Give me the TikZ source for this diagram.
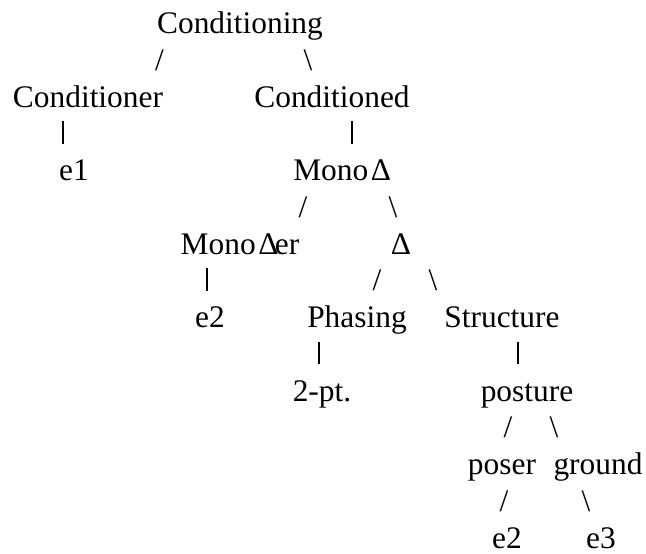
\documentclass[tikz,border=0pt]{standalone}
\usepackage{fontspec}
\setmainfont{Liberation Serif}
% short upright stroke used for the single-child links
\newcommand{\treebar}{\rule{2.4pt}{0.72em}}
\begin{document}
\begin{tikzpicture}[x=1pt,y=-1pt,
  lbl/.style={anchor=base,inner sep=0pt,font=\fontsize{31.4}{36}\selectfont},
  link/.style={lbl}]
\useasboundingbox (0,0) rectangle (646,554);
\def\rowh{36.75}
\newcommand{\rowy}[1]{33.6+#1*\rowh}
\newcommand{\Dl}{\kern0.1em ∆}
% row 0
\node[lbl] (cond) at (240,{\rowy{0}}) {Conditioning};
% row 1
\node[link] (s1) at (159.5,{\rowy{1}}) {/};
\node[link] (b1) at (308,{\rowy{1}}) {\textbackslash};
% row 2
\node[lbl] (condr) at (88,{\rowy{2}}) {Conditioner};
\node[lbl] (condd) at (332,{\rowy{2}}) {Conditioned};
% row 3
\node[link] (v1) at (63,{\rowy{3}}) {\treebar};
\node[link] (v2) at (352,{\rowy{3}}) {\treebar};
% row 4
\node[lbl] (e1) at (74,{\rowy{4}}) {e1};
\node[lbl] (mono) at (342,{\rowy{4}}) {Mono\Dl};
% row 5
\node[link] (s2) at (303,{\rowy{5}}) {/};
\node[link] (b2) at (393,{\rowy{5}}) {\textbackslash};
% row 6
\node[lbl] (monoer) at (240,{\rowy{6}}) {Mono\Dl\kern-0.1em er};
\node[lbl] (delta) at (401,{\rowy{6}}) {∆};
% row 7
\node[link] (v3) at (207,{\rowy{7}}) {\treebar};
\node[link] (s3) at (377,{\rowy{7}}) {/};
\node[link] (b3) at (433,{\rowy{7}}) {\textbackslash};
% row 8
\node[lbl] (e2a) at (210,{\rowy{8}}) {e2};
\node[lbl] (phase) at (357,{\rowy{8}}) {Phasing};
\node[lbl] (struct) at (502,{\rowy{8}}) {Structure};
% row 9
\node[link] (v4) at (319,{\rowy{9}}) {\treebar};
\node[link] (v5) at (518,{\rowy{9}}) {\treebar};
% row 10
\node[lbl] (twopt) at (322,{\rowy{10}}) {2-pt.};
\node[lbl] (post) at (527,{\rowy{10}}) {posture};
% row 11
\node[link] (s4) at (508,{\rowy{11}}) {/};
\node[link] (b4) at (554,{\rowy{11}}) {\textbackslash};
% row 12
\node[lbl] (poser) at (502,{\rowy{12}}) {poser};
\node[lbl] (ground) at (598,{\rowy{12}}) {ground};
% row 13
\node[link] (s5) at (504,{\rowy{13}}) {/};
\node[link] (b5) at (586,{\rowy{13}}) {\textbackslash};
% row 14
\node[lbl] (e2b) at (507,{\rowy{14}}) {e2};
\node[lbl] (e3) at (601,{\rowy{14}}) {e3};
\end{tikzpicture}
\end{document}
